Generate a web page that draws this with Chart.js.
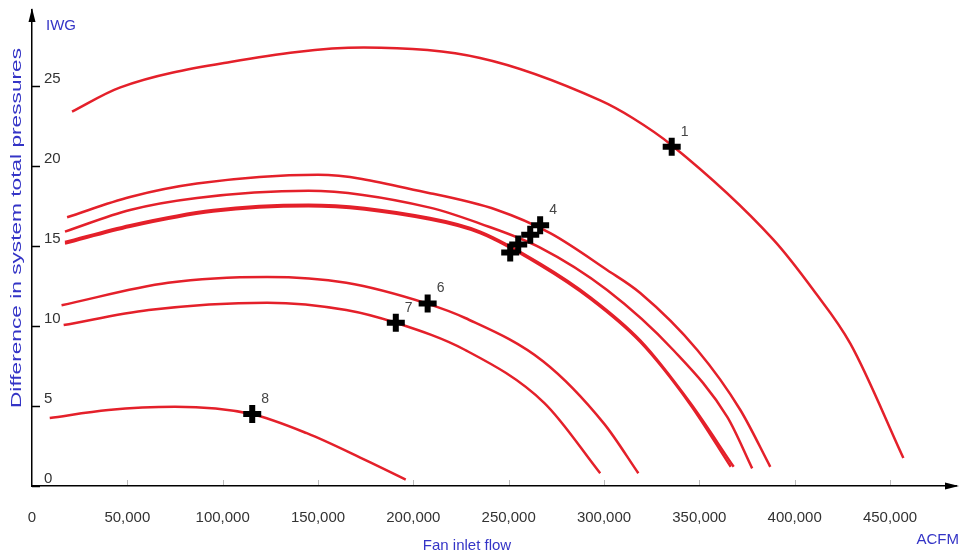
<!DOCTYPE html>
<html>
<head>
<meta charset="utf-8">
<title>Fan curves</title>
<script src="https://cdn.jsdelivr.net/npm/chart.js@4.4.1/dist/chart.umd.min.js"></script>
<style>
  html, body { margin: 0; padding: 0; background: #fff; }
</style>
</head>
<body>
<canvas id="fanChart" width="961" height="554"></canvas>
<script>
// ---- values (flow in ACFM, pressure in IWG) ----
const xTicks = [0, 50000, 100000, 150000, 200000, 250000, 300000, 350000, 400000, 450000];
const yTicks = [0, 5, 10, 15, 20, 25];

const curve1Flow = [21000, 46000, 104000, 174000, 235000, 298000, 315000, 335500, 388800, 409800, 429200, 457000];
const curve1Iwg  = [23.4, 24.9, 26.5, 27.4, 26.75, 24.1, 23.0, 21.3, 15.4, 12.25, 8.9, 1.75];

const curve2Flow = [18400, 51400, 86500, 150000, 208700, 243900, 271800, 301600, 319000, 348900, 371500, 387200];
const curve2Iwg  = [16.8, 18.06, 18.9, 19.45, 18.3, 17.25, 15.8, 13.5, 12.06, 8.5, 4.75, 1.2];

const curve3Flow = [17300, 51400, 86500, 145000, 208700, 235000, 266500, 301600, 336300, 364700, 377700];
const curve3Iwg  = [15.9, 17.25, 18.0, 18.45, 17.4, 16.4, 14.9, 12.25, 8.5, 4.3, 1.1];

const curve4Flow = [17300, 51400, 95000, 145000, 208700, 235000, 266500, 292800, 319000, 345200, 368000];
const curve4Iwg  = [15.25, 16.3, 17.25, 17.58, 16.75, 15.9, 13.9, 11.8, 9.1, 5.2, 1.2];

const curve5Flow = [17300, 51400, 95000, 145000, 208700, 235000, 266500, 292800, 319000, 345200, 366500];
const curve5Iwg  = [15.15, 16.2, 17.15, 17.48, 16.65, 15.8, 13.8, 11.7, 9.0, 5.1, 1.2];

const curve6Flow = [15500, 71400, 123300, 164800, 207200, 227200, 268000, 300000, 318000];
const curve6Iwg  = [11.3, 12.7, 13.06, 12.7, 11.4, 10.5, 7.8, 3.9, 0.8];

const curve7Flow = [16600, 61200, 123300, 164800, 190800, 227200, 268600, 298000];
const curve7Iwg  = [10.06, 11.0, 11.46, 11.0, 10.2, 8.5, 5.2, 0.8];

const curve8Flow = [9300, 40000, 75000, 114900, 144100, 175200, 196000];
const curve8Iwg  = [4.25, 4.75, 4.95, 4.5, 3.3, 1.6, 0.4];

const markerFlow   = [335500, 250800, 255000, 261300, 266500, 207500, 190800, 115500];
const markerIwg    = [21.2, 14.6, 15.1, 15.7, 16.3, 11.4, 10.2, 4.5];
const markerLabels = ['1', '', '', '', '4', '6', '7', '8'];

// ---- helpers ----
const toPoints = (xs, ys) => xs.map((x, i) => ({ x: x, y: ys[i] }));

const RED = '#e4202a';
const BLUE = '#3434c6';
const FONT = '"Liberation Sans", Arial, sans-serif';

let curve = (xs, ys) => ({
  data: toPoints(xs, ys),
  showLine: true,
  borderColor: RED,
  borderWidth: 2.5,
  pointRadius: 0,
  fill: false,
  cubicInterpolationMode: 'monotone',
  order: 1,
});

/* axis decorations: inward ticks, arrows, titles, point numbers */
const decor = {
  id: 'decor',
  afterDraw(chart) {
    const ctx = chart.ctx;
    const area = chart.chartArea;
    const xs = chart.scales.x;
    const ys = chart.scales.y;
    ctx.save();

    // y ticks pointing into the plot
    ctx.strokeStyle = '#000';
    ctx.lineWidth = 1.5;
    yTicks.forEach((v) => {
      const py = Math.round(ys.getPixelForValue(v)) + 0.5;
      ctx.beginPath();
      ctx.moveTo(area.left, py);
      ctx.lineTo(area.left + 8, py);
      ctx.stroke();
    });
    // faint x ticks
    ctx.strokeStyle = '#bbb';
    ctx.lineWidth = 1;
    xTicks.slice(1).forEach((v) => {
      const px = Math.round(xs.getPixelForValue(v)) + 0.5;
      ctx.beginPath();
      ctx.moveTo(px, area.bottom - 1);
      ctx.lineTo(px, area.bottom - 6);
      ctx.stroke();
    });

    // arrow heads
    ctx.fillStyle = '#000';
    ctx.beginPath();
    ctx.moveTo(area.left, area.top - 2);
    ctx.lineTo(area.left - 3.5, area.top + 12);
    ctx.lineTo(area.left + 3.5, area.top + 12);
    ctx.closePath();
    ctx.fill();
    ctx.beginPath();
    ctx.moveTo(area.right + 3, area.bottom);
    ctx.lineTo(area.right - 11, area.bottom - 3.5);
    ctx.lineTo(area.right - 11, area.bottom + 3.5);
    ctx.closePath();
    ctx.fill();

    // axis titles
    ctx.fillStyle = BLUE;
    ctx.font = '15px ' + FONT;
    ctx.textBaseline = 'middle';
    ctx.textAlign = 'left';
    ctx.fillText('IWG', area.left + 14, 26);
    ctx.textAlign = 'right';
    ctx.fillText('ACFM', 959, 540);
    ctx.textAlign = 'center';
    ctx.fillText('Fan inlet flow', 467, 546);

    const yTitle = 'Difference in system total pressures';
    ctx.font = '14.5px ' + FONT;
    const stretch = 360 / ctx.measureText(yTitle).width;
    ctx.translate(17, 228);
    ctx.rotate(-Math.PI / 2);
    ctx.scale(stretch, 1);
    ctx.fillText(yTitle, 0, 0);
    ctx.setTransform(1, 0, 0, 1, 0, 0);

    // numbers next to the crosses
    ctx.fillStyle = '#444';
    ctx.font = '14px ' + FONT;
    ctx.textAlign = 'left';
    markerLabels.forEach((t, i) => {
      if (!t) return;
      const px = xs.getPixelForValue(markerFlow[i]);
      const py = ys.getPixelForValue(markerIwg[i]);
      ctx.fillText(t, px + 9, py - 15);
    });
    ctx.restore();
  },
};

const ctx = document.getElementById('fanChart');
const chart = new Chart(ctx, {
  type: 'scatter',
  data: {
    datasets: [
      {
        data: toPoints(markerFlow, markerIwg),
        pointStyle: 'cross',
        pointRadius: 9,
        pointBorderWidth: 6,
        pointBorderColor: '#000',
        pointBackgroundColor: '#000',
        order: -1,
      },
      curve(curve1Flow, curve1Iwg),
      curve(curve2Flow, curve2Iwg),
      curve(curve3Flow, curve3Iwg),
      curve(curve4Flow, curve4Iwg),
      curve(curve5Flow, curve5Iwg),
      curve(curve6Flow, curve6Iwg),
      curve(curve7Flow, curve7Iwg),
      curve(curve8Flow, curve8Iwg),
    ],
  },
  options: {
    responsive: false,
    animation: false,
    devicePixelRatio: 1,
    layout: { autoPadding: false, padding: { left: 32, top: 10, right: 5, bottom: 0 } },
    plugins: { legend: { display: false }, tooltip: { enabled: false } },
    scales: {
      x: {
        type: 'linear',
        min: 0,
        max: 484600,
        afterBuildTicks: (s) => { s.ticks = xTicks.map((v) => ({ value: v })); },
        afterFit: (s) => {
          s.height = 68;
          s.paddingLeft = 0;
          s.paddingRight = 0;
        },
        grid: { display: false },
        border: { display: true, color: '#000', width: 1.5 },
        ticks: {
          padding: 15,
          color: '#333',
          font: { family: FONT, size: 15 },
          maxRotation: 0,
          autoSkip: false,
          callback: (v) => v.toLocaleString('en-US'),
        },
      },
      y: {
        type: 'linear',
        min: 0,
        max: 29.75,
        afterBuildTicks: (s) => { s.ticks = yTicks.map((v) => ({ value: v })); },
        afterFit: (s) => {
          s.width = 0;
          s.paddingTop = 0;
          s.paddingBottom = 0;
        },
        grid: { display: false },
        border: { display: true, color: '#000', width: 1.5 },
        ticks: {
          mirror: true,
          padding: 12,
          labelOffset: -7,
          color: '#333',
          font: { family: FONT, size: 15 },
        },
      },
    },
  },
  plugins: [decor],
});
</script>
</body>
</html>
